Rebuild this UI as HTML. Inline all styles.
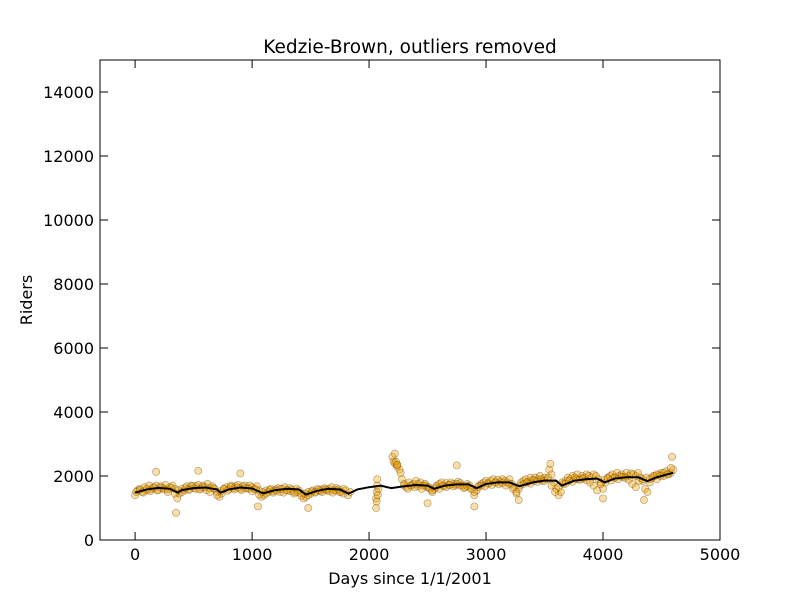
<!DOCTYPE html>
<html><head><meta charset="utf-8"><style>
body{margin:0;background:#fff}
svg text{font-family:"DejaVu Sans","Liberation Sans",sans-serif;fill:#000}
</style></head><body>
<svg id="chart" width="800" height="600" xmlns="http://www.w3.org/2000/svg">
<rect width="800" height="600" fill="#fff"/>
<text x="410" y="53" font-size="18.5" text-anchor="middle">Kedzie-Brown, outliers removed</text>
<g id="points"></g>
<polyline id="trend" fill="none" stroke="#000" stroke-width="2"/>
<rect x="100" y="60" width="620" height="480" fill="none" stroke="#000" stroke-width="1"/>
<g id="ticks"></g>
<text x="410" y="584" font-size="16" text-anchor="middle">Days since 1/1/2001</text>
<text x="32" y="300" font-size="16" text-anchor="middle" transform="rotate(-90 32 300)">Riders</text>
</svg>
<script>
const xTicks=[0,1000,2000,3000,4000,5000];
const yTicks=[0,2000,4000,6000,8000,10000,12000,14000];
const segAStart=0, segAStep=20;
const segAValues=[1400,1550,1600,1500,1650,1550,1700,1580,1650,1700,1560,1680,1620,1720,1580,1650,1700,1600,1300,
1450,1600,1550,1680,1600,1700,1620,1680,1720,1600,1700,1650,1750,1620,1680,1600,1500,1350,
1450,1600,1650,1580,1700,1620,1680,1720,1600,1680,1700,1620,1700,1650,1600,1680,1550,1350,
1400,1550,1500,1600,1520,1580,1620,1500,1600,1650,1550,1620,1580,1500,1600,1550,1450,1300,
1350,1500,1450,1550,1500,1600,1520,1580,1620,1550,1600,1650,1550,1620,1580,1500,1600,1550,1400,1500];
const segBStart=10, segBStep=30;
const segBValues=[1500,1560,1480,1600,1530,1620,1550,1640,1580,1500,1620,1450,
1550,1500,1620,1560,1680,1600,1580,1650,1560,1500,1620,1400,
1520,1600,1540,1660,1580,1640,1560,1620,1600,1520,1580,1420,
1500,1450,1560,1480,1540,1600,1480,1560,1520,1450,1500,1380,
1450,1400,1520,1480,1560,1500,1580,1520,1480,1550,1500,1450];
const segCStart=2200, segCStep=20;
const segCValues=[2600,2400,2300,2200,1900,1700,
1650,1800,1700,1750,1850,1680,1800,1700,1750,1650,1600,1500,
1600,1700,1750,1800,1680,1780,1720,1800,1750,1700,1820,1780,1700,1650,1750,1700,1600,1400,
1550,1700,1750,1800,1850,1780,1850,1900,1800,1880,1820,1900,1850,1800,1900,1750,1650,1450,
1600,1800,1850,1900,1820,1950,1880,1950,1900,2000,1850,1950,1900,2200,2050,1800,1600,1400,1500,
1750,1850,1950,1900,2000,1950,2050,1900,2000,1950,2050,2000,1950,2050,2000,1900,1800,1600,
1800,1950,2000,2050,1950,2100,2000,2050,1980,2100,2000,2080,2050,2000,2100,1950,1850,1600,1500,
1800,1950,2000,1900,2050,2100,2000,2150,2050,2100,2200];
const segDStart=2210, segDStep=30;
const segDValues=[2450,2350,2100,1750,1600,1700,1650,1750,1600,1700,1650,1550,
1650,1600,1700,1650,1720,1680,1750,1700,1620,1680,1600,1500,
1650,1700,1680,1760,1720,1800,1740,1780,1700,1760,1600,1500,
1700,1750,1800,1760,1850,1820,1900,1850,1950,1700,1500,1650,
1800,1760,1850,1820,1900,1880,1920,1860,1800,1700,1550,1750,
1880,1920,1860,1950,1900,1980,1940,1880,1750,1650,1850,1900,
1950,1900,2000,2050,2000,2100,2050,2250];
const extraDays=[2060,2060,2065,2070,2070,2075,2065,2080,180,540,900,350,1050,1480,2750,2900,2500,3280,3550,4000,4350,4590,2220,2230,2240];
const extraValues=[1000,1300,1500,1700,1900,1400,1200,1600,2130,2160,2080,850,1050,1000,2330,1050,1150,1250,2380,1300,1250,2600,2700,2450,2350];
const trendDays=[0,100,200,300,365,400,500,600,700,730,800,900,1000,1095,1200,1300,1400,1460,1550,1650,1750,1825,1900,2000,2100,2190,2300,2400,2500,2555,2650,2750,2850,2920,3000,3100,3200,3285,3400,3500,3600,3650,3750,3850,3950,4015,4100,4200,4300,4380,4450,4550,4600];
const trendValues=[1480,1580,1630,1600,1480,1560,1620,1640,1580,1480,1580,1640,1610,1460,1560,1600,1580,1420,1530,1600,1580,1450,1580,1650,1700,1620,1680,1720,1700,1600,1700,1740,1740,1620,1750,1800,1800,1680,1800,1860,1850,1700,1850,1900,1920,1800,1920,1960,1960,1840,1950,2050,2100];
const X=d=>100+(d+300)/5300*620;
const Y=v=>540-v/15000*480;
const NS="http://www.w3.org/2000/svg";
const pg=document.getElementById('points');
function dot(d,v){
  const c=document.createElementNS(NS,'circle');
  c.setAttribute('cx',X(d));c.setAttribute('cy',Y(v));c.setAttribute('r',3.6);
  c.setAttribute('fill','#f0a000');c.setAttribute('fill-opacity','0.35');
  c.setAttribute('stroke','#6a4400');c.setAttribute('stroke-opacity','0.45');c.setAttribute('stroke-width','0.7');
  
  
  pg.appendChild(c);
}
segAValues.forEach((v,i)=>dot(segAStart+i*segAStep,v));
segBValues.forEach((v,i)=>dot(segBStart+i*segBStep,v));
segCValues.forEach((v,i)=>dot(segCStart+i*segCStep,v));
segDValues.forEach((v,i)=>dot(segDStart+i*segDStep,v));
extraValues.forEach((v,i)=>dot(extraDays[i],v));
document.getElementById('trend').setAttribute('points',trendDays.map((d,i)=>X(d)+','+Y(trendValues[i])).join(' '));
const tg=document.getElementById('ticks');
function line(x1,y1,x2,y2){const l=document.createElementNS(NS,'line');l.setAttribute('x1',x1);l.setAttribute('y1',y1);l.setAttribute('x2',x2);l.setAttribute('y2',y2);l.setAttribute('stroke','#000');


tg.appendChild(l);}
function txt(x,y,s,a){const t=document.createElementNS(NS,'text');t.setAttribute('x',x);t.setAttribute('y',y);t.setAttribute('font-size','16');t.setAttribute('text-anchor',a);t.textContent=s;


tg.appendChild(t);}
xTicks.forEach(d=>{const x=X(d);line(x,540,x,532);line(x,60,x,68);txt(x,560,String(d),'middle');});
yTicks.forEach(v=>{const y=Y(v);line(100,y,108,y);line(720,y,712,y);txt(94,y+6,String(v),'end');});
</script>
</body></html>
